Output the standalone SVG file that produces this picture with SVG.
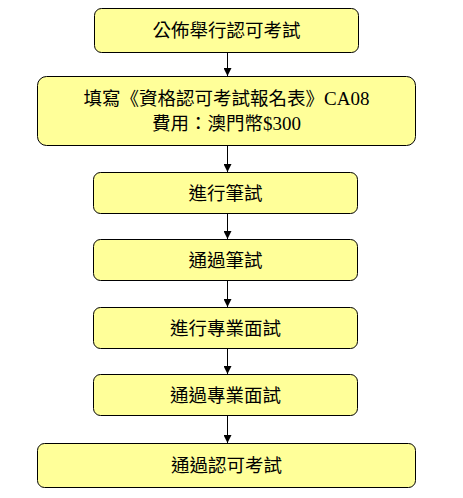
<svg xmlns="http://www.w3.org/2000/svg" width="463" height="498" viewBox="0 0 463 498">
<style>
.n{fill:#ffff99;stroke:#000;stroke-width:1}
.t{font-family:"Noto Sans CJK TC","Noto Sans CJK SC",sans-serif;font-size:18.5px;text-anchor:middle;fill:#000}
.s{font-family:"Liberation Serif","Noto Sans CJK TC",serif;font-size:19px}
.c{stroke:#000;stroke-width:1;fill:none;marker-end:url(#a)}
</style>
<defs><marker id="a" viewBox="0 0 8 8" refX="8" refY="4" markerWidth="8" markerHeight="8" markerUnits="userSpaceOnUse" orient="auto"><path d="M0,0L8,4L0,8z" fill="#000"/></marker></defs>
<rect width="463" height="498" fill="#fff"/>
<g id="connectors">
<line class="c" x1="227.5" y1="53" x2="227.5" y2="76"/>
<line class="c" x1="227.5" y1="146" x2="227.5" y2="172"/>
<line class="c" x1="227.5" y1="214" x2="227.5" y2="239"/>
<line class="c" x1="227.5" y1="281" x2="227.5" y2="307"/>
<line class="c" x1="227.5" y1="349" x2="227.5" y2="374"/>
<line class="c" x1="227.5" y1="416" x2="227.5" y2="443"/>
</g>
<g id="n1"><rect class="n" x="94.5" y="8.5" width="264" height="44" rx="7"/><text class="t" x="226.5" y="37">公佈舉行認可考試</text></g>
<g id="n2"><rect class="n" x="37.5" y="76.5" width="378" height="69" rx="9"/><text class="t" x="226.5" y="105">填寫《資格認可考試報名表》<tspan class="s">CA08</tspan></text><text class="t" x="226.5" y="130">費用：澳門幣<tspan class="s">$300</tspan></text></g>
<g id="n3"><rect class="n" x="93.5" y="172.5" width="264" height="41" rx="7"/><text class="t" x="225.5" y="200">進行筆試</text></g>
<g id="n4"><rect class="n" x="93.5" y="239.5" width="264" height="41" rx="7"/><text class="t" x="225.5" y="267">通過筆試</text></g>
<g id="n5"><rect class="n" x="93.5" y="307.5" width="264" height="41" rx="7"/><text class="t" x="225.5" y="335">進行專業面試</text></g>
<g id="n6"><rect class="n" x="93.5" y="374.5" width="264" height="41" rx="7"/><text class="t" x="225.5" y="402">通過專業面試</text></g>
<g id="n7"><rect class="n" x="37.5" y="443.5" width="378" height="44" rx="7"/><text class="t" x="226.5" y="472">通過認可考試</text></g>
</svg>
